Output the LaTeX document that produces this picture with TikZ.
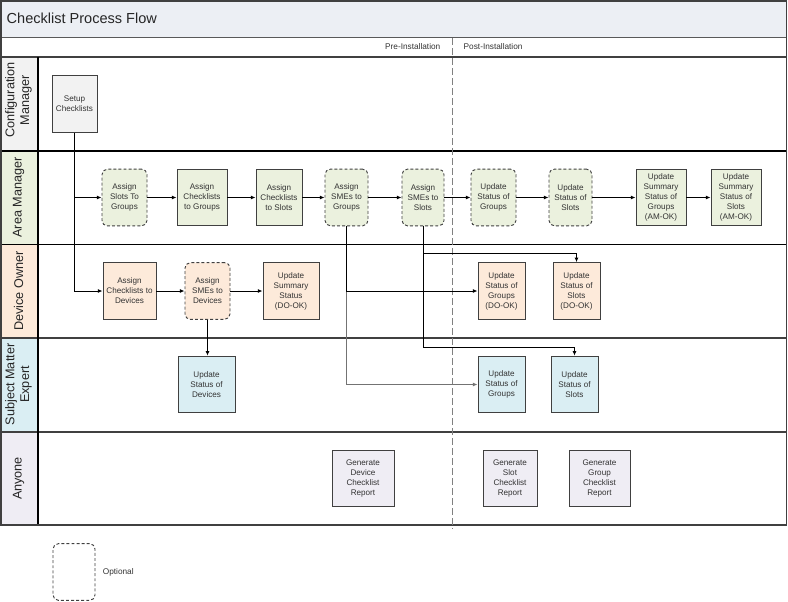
\documentclass[tikz,border=0pt]{standalone}
\usepackage{fontspec}
\setmainfont{Liberation Sans}
\usetikzlibrary{arrows.meta, positioning}
\definecolor{titlefill}{HTML}{ECEFF4}
\definecolor{cmfill}{HTML}{F2F2F2}
\definecolor{amfill}{HTML}{EBF1DE}
\definecolor{dofill}{HTML}{FDEADA}
\definecolor{smefill}{HTML}{DAEEF3}
\definecolor{anyfill}{HTML}{EFEDF4}
\definecolor{framegray}{HTML}{404040}
\tikzset{
    boxstyle/.style={draw=black!75, line width=0.7pt, align=center, inner sep=1pt,
        font=\fontsize{6.1}{7.5}\selectfont, text=black!80, minimum height=42.5pt},
    optstyle/.style={boxstyle, dash pattern=on 2.2pt off 1.6pt, rounded corners=4pt},
    boxw/.style={minimum width=#1*0.75pt},
    lanestyle/.style={rotate=90, align=center, font=\fontsize{9.5}{11.2}\selectfont, text=black!85},
    phasestyle/.style={font=\fontsize{6.2}{7.5}\selectfont, text=black!80},
    arrowstyle/.style={-{Latex[length=3.5pt,width=3pt]}, line width=0.7pt, black},
    grayarrowstyle/.style={arrowstyle, black!55, line width=1pt},
    framestyle/.style={framegray, line width=1pt}
}
\begin{document}
\begin{tikzpicture}[x=0.75pt, y=-0.75pt, >=Latex]
    \useasboundingbox (0,0) rectangle (788,601);

    \def\amy{197.5}
    \def\doy{291}
    \def\smey{384.5}
    \def\anyy{478.5}

    % ================= FRAME =================
    \fill[titlefill] (1,1) rectangle (786.5,37.5);
    \fill[cmfill] (1,57) rectangle (38,151);
    \fill[amfill] (1,151) rectangle (38,244.5);
    \fill[dofill] (1,244.5) rectangle (38,338);
    \fill[smefill] (1,338) rectangle (38,432);
    \fill[anyfill] (1,432) rectangle (38,525);

    \draw[gray!70!black, line width=1.2pt] (1,37.5) -- (786.5,37.5);
    \draw[framestyle, line width=1.6pt] (1,57) -- (786.5,57);
    \draw[black, line width=0.8pt] (1,151) -- (786.5,151);
    \draw[black, line width=0.8pt] (1,244.5) -- (786.5,244.5);
    \draw[framestyle, line width=1.4pt] (1,338) -- (786.5,338);
    \draw[framestyle, line width=1.4pt] (1,432) -- (786.5,432);
    \draw[black, line width=0.8pt] (38,57) -- (38,525);
    \draw[framestyle, line width=1.4pt] (1,1) rectangle (786.5,525);

    % --- Phase divider ---
    \draw[gray, line width=0.7pt, dash pattern=on 5pt off 2.5pt] (452,38) -- (452,529);

    % --- Titles ---
    \node[anchor=west, font=\fontsize{10.9}{13}\selectfont, text=black!85] (title) at (2,18.5) {Checklist Process Flow};
    \node[phasestyle, anchor=east] (pre) at (445,47) {Pre-Installation};
    \node[phasestyle, anchor=west] (post) at (459,47) {Post-Installation};

    \node[lanestyle] (cmlabel) at (18.5,100) {Configuration\\Manager};
    \node[lanestyle] (amlabel) at (18.5,\amy) {Area Manager};
    \node[lanestyle] (dolabel) at (18.5,\doy) {Device Owner};
    \node[lanestyle] (smelabel) at (18.5,\smey) {Subject Matter\\Expert};
    \node[lanestyle] (anylabel) at (18.5,\anyy) {Anyone};

    % ================= LANE: Configuration Manager =================
    \node[boxstyle, boxw=45, fill=cmfill] (setup) at (74.5,104) {Setup\\Checklists};

    % ================= LANE: Area Manager =================
    \node[optstyle, boxw=45, fill=amfill] (asg) at (124.5,\amy) {Assign\\Slots To\\Groups};
    \node[boxstyle, boxw=50, fill=amfill] (acg) at (202,\amy) {Assign\\Checklists\\to Groups};
    \node[boxstyle, boxw=46, fill=amfill] (acs) at (279,\amy) {Assign\\Checklists\\to Slots};
    \node[optstyle, boxw=43, fill=amfill] (asmg) at (346.5,\amy) {Assign\\SMEs to\\Groups};
    \node[optstyle, boxw=42, fill=amfill] (asms) at (423,\amy) {Assign\\SMEs to\\Slots};
    \node[optstyle, boxw=45, fill=amfill] (usg) at (493.5,\amy) {Update\\Status of\\Groups};
    \node[optstyle, boxw=43, fill=amfill] (uss) at (570.5,\amy) {Update\\Status of\\Slots};
    \node[boxstyle, boxw=50, fill=amfill] (ussg) at (661,\amy) {Update\\Summary\\Status of\\Groups\\(AM-OK)};
    \node[boxstyle, boxw=50, fill=amfill] (usss) at (736,\amy) {Update\\Summary\\Status of\\Slots\\(AM-OK)};

    % ================= LANE: Device Owner =================
    \node[boxstyle, boxw=53, fill=dofill] (acd) at (129.5,\doy) {Assign\\Checklists to\\Devices};
    \node[optstyle, boxw=45, fill=dofill] (asd) at (207.5,\doy) {Assign\\SMEs to\\Devices};
    \node[boxstyle, boxw=56, fill=dofill] (ussd) at (291,\doy) {Update\\Summary\\Status\\(DO-OK)};
    \node[boxstyle, boxw=47, fill=dofill] (usgd) at (501.5,\doy) {Update\\Status of\\Groups\\(DO-OK)};
    \node[boxstyle, boxw=47, fill=dofill] (ussld) at (576.5,\doy) {Update\\Status of\\Slots\\(DO-OK)};

    % ================= LANE: Subject Matter Expert =================
    \node[boxstyle, boxw=57, fill=smefill] (usd) at (206.5,\smey) {Update\\Status of\\Devices};
    \node[boxstyle, boxw=47, fill=smefill] (usgs) at (501.5,\smey) {Update\\Status of\\Groups};
    \node[boxstyle, boxw=47, fill=smefill] (ussls) at (574.5,\smey) {Update\\Status of\\Slots};

    % ================= LANE: Anyone =================
    \node[boxstyle, boxw=62, fill=anyfill] (gdr) at (363,\anyy) {Generate\\Device\\Checklist\\Report};
    \node[boxstyle, boxw=54, fill=anyfill] (gsr) at (510,\anyy) {Generate\\Slot\\Checklist\\Report};
    \node[boxstyle, boxw=61, fill=anyfill] (ggr) at (599.5,\anyy) {Generate\\Group\\Checklist\\Report};

    % --- Legend ---
    \node[optstyle, boxw=42, fill=none] (legend) at (74,572) {};
    \node[phasestyle, anchor=west] (legendtext) at ([xshift=2pt]legend.east) {Optional};

    % ================= CONNECTORS =================
    \draw[arrowstyle] (setup.south) |- (acd.west);
    \draw[arrowstyle] (setup.south) |- (asg.west);

    \foreach \from/\to in {asg/acg, acg/acs, acs/asmg, asmg/asms, asms/usg, usg/uss, uss/ussg, ussg/usss}
        \draw[arrowstyle] (\from) -- (\to);

    \foreach \from/\to in {acd/asd, asd/ussd}
        \draw[arrowstyle] (\from) -- (\to);
    \draw[arrowstyle] (asd.south) -- (asd.south |- usd.north);

    \coordinate (smegturn) at (asmg.south |- usgd.west);
    \draw[grayarrowstyle] (smegturn) |- (usgs.west);
    \draw[arrowstyle] (asmg.south) |- (usgd.west);

    \draw[arrowstyle] (asms.south) -- ++(0,121) -| (ussls.north);
    \draw[arrowstyle] (asms.south) -- ++(0,27) -| (ussld.north);

\end{tikzpicture}
\end{document}
